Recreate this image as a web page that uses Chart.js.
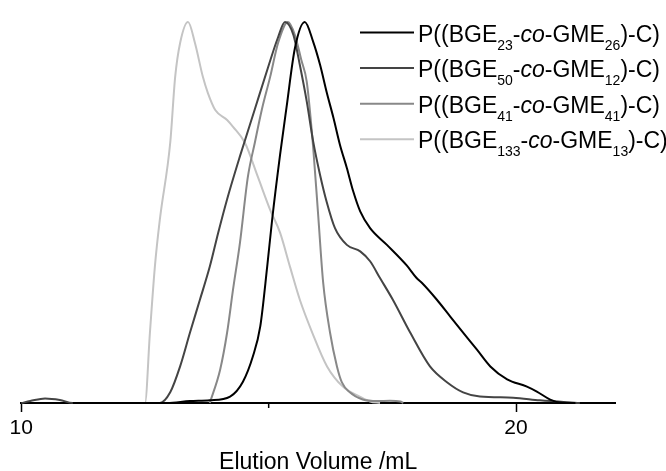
<!DOCTYPE html>
<html>
<head>
<meta charset="utf-8">
<script src="https://cdn.jsdelivr.net/npm/chart.js@4/dist/chart.umd.min.js"></script>
<style>
  html, body { margin: 0; padding: 0; background: #fff; }
</style>
</head>
<body>
<canvas id="secChart" width="666" height="471"></canvas>
<script>
// composition of each copolymer (subscripts in the legend)
var bgeUnits = [23, 50, 41, 133];
var gmeUnits = [26, 12, 41, 13];
var lineColors = ['#000000', '#444444', '#888888', '#c4c4c4'];

// elution volume (mL) and normalised RI signal
var volA = [11.04, 12.95, 13.41, 13.81, 14.22, 14.48, 14.68, 14.83, 14.97, 15.07, 15.23, 15.36, 15.53, 15.73, 15.90, 16.04, 16.17, 16.31, 16.44, 16.58, 16.71, 16.85, 17.05, 17.39, 17.79, 17.99, 18.10, 18.40, 18.67, 18.93, 19.21, 19.48, 19.82, 20.22, 20.42, 20.69, 20.89, 21.20];
var sigA = [0, 0, 0.5, 0.7, 1.7, 5.6, 12.2, 20.1, 35.8, 48.1, 65.1, 77.5, 93.1, 100, 94.8, 88.7, 81.7, 74.8, 67.8, 61.7, 55.5, 50.3, 45.9, 41.5, 36.1, 32.8, 31.5, 27.1, 22.7, 18.5, 14.0, 9.6, 6.2, 4.3, 3.0, 0.9, 0.1, 0];

var volB = [10.0, 10.18, 10.48, 10.78, 11.04, 12.80, 13.01, 13.21, 13.41, 13.61, 13.81, 13.98, 14.16, 14.42, 14.72, 14.99, 15.19, 15.33, 15.50, 15.63, 15.77, 15.90, 16.04, 16.17, 16.34, 16.58, 16.85, 17.05, 17.25, 17.51, 17.86, 18.26, 18.61, 18.93, 19.27, 19.94, 20.48, 21.29];
var sigB = [0, 0.5, 1.2, 0.8, 0, 0, 2.8, 9.6, 18.5, 27.1, 35.8, 44.7, 53.5, 64.8, 77.1, 88.2, 96.0, 100, 96.6, 88.7, 79.1, 68.6, 59.8, 52.9, 45.9, 41.5, 39.8, 37.2, 32.8, 27.1, 18.5, 9.6, 5.4, 2.8, 1.7, 1.4, 0.7, 0];

var volC = [13.81, 14.02, 14.16, 14.28, 14.42, 14.58, 14.72, 14.86, 15.03, 15.19, 15.39, 15.53, 15.66, 15.77, 15.90, 16.00, 16.10, 16.24, 16.38, 16.48, 16.64, 16.90, 17.20, 17.45, 17.66, 17.72];
var sigC = [0, 8.8, 18.5, 29.8, 42.1, 59.4, 68.3, 76.9, 85.6, 94.5, 100, 96.6, 90.0, 84.3, 67.0, 49.4, 31.8, 18.5, 9.6, 5.4, 2.8, 0.9, 0.5, 0.6, 0.4, 0];

var volD = [11.04, 12.50, 12.60, 12.70, 12.80, 13.01, 13.11, 13.21, 13.37, 13.51, 13.67, 13.77, 13.92, 14.16, 14.28, 14.52, 14.78, 15.03, 15.23, 15.43, 15.63, 15.88, 16.18, 16.50, 16.84, 17.05, 17.25];
var sigD = [0, 0, 18.5, 35.8, 48.1, 68.3, 85.6, 94.5, 100, 94.5, 85.6, 81.4, 76.9, 74.3, 72.5, 68.3, 59.4, 50.7, 44.7, 35.8, 27.1, 18.5, 9.6, 4.3, 1.7, 0.4, 0];

var xTicks = [10, 20];
var xMinor = [15];

function pairs(xs, ys) {
    return xs.map(function(v, i) { return {x: v, y: ys[i]}; });
}

var seriesVol = [volA, volB, volC, volD];
var seriesSig = [sigA, sigB, sigC, sigD];

var datasets = bgeUnits.map(function(b, i) {
    return {
        label: 'P((BGE' + b + '-co-GME' + gmeUnits[i] + ')-C)',
        data: pairs(seriesVol[i], seriesSig[i]),
        borderColor: lineColors[i],
        borderWidth: 2,
        pointRadius: 0,
        fill: false,
        cubicInterpolationMode: 'monotone',
        clip: false
    };
});

var FONT = "'Liberation Sans', Arial, sans-serif";

// legend with subscripts and italic "co"
var legendPlugin = {
    id: 'subLegend',
    afterDraw: function(chart) {
        var ctx = chart.ctx;
        ctx.save();
        bgeUnits.forEach(function(b, i) {
            var y = 32.5 + i * 35.6;
            ctx.strokeStyle = lineColors[i];
            ctx.lineWidth = 2;
            ctx.beginPath();
            ctx.moveTo(360, y);
            ctx.lineTo(414, y);
            ctx.stroke();

            var parts = [
                ['P((BGE', 'n'], [String(b), 's'], ['-', 'n'], ['co', 'i'],
                ['-GME', 'n'], [String(gmeUnits[i]), 's'], [')-C)', 'n']
            ];
            var x = 418;
            var base = y + 9;
            ctx.fillStyle = '#000';
            ctx.textBaseline = 'alphabetic';
            ctx.textAlign = 'left';
            parts.forEach(function(p) {
                if (p[1] === 's') {
                    ctx.font = '14px ' + FONT;
                    ctx.fillText(p[0], x, base + 8);
                } else if (p[1] === 'i') {
                    ctx.font = 'italic 23px ' + FONT;
                    ctx.fillText(p[0], x, base);
                } else {
                    ctx.font = '23px ' + FONT;
                    ctx.fillText(p[0], x, base);
                }
                x += ctx.measureText(p[0]).width;
            });
        });
        ctx.restore();
    }
};

// short minor tick at 15 mL
var minorTickPlugin = {
    id: 'minorTicks',
    afterDraw: function(chart) {
        var scale = chart.scales.x;
        var ctx = chart.ctx;
        ctx.save();
        ctx.strokeStyle = '#000';
        ctx.lineWidth = 1.5;
        xMinor.forEach(function(v) {
            var px = scale.getPixelForValue(v);
            ctx.beginPath();
            ctx.moveTo(px, scale.top);
            ctx.lineTo(px, scale.top + 5);
            ctx.stroke();
        });
        ctx.restore();
    }
};

var ctx = document.getElementById('secChart');
var secChart = new Chart(ctx, {
    type: 'line',
    data: { datasets: datasets },
    options: {
        responsive: false,
        animation: false,
        devicePixelRatio: 1,
        layout: { padding: { left: 21.3, right: 51, top: 22, bottom: 0 } },
        plugins: { legend: { display: false }, tooltip: { enabled: false } },
        scales: {
            x: {
                type: 'linear',
                min: 10,
                max: 22,
                afterBuildTicks: function(scale) {
                    scale.ticks = xTicks.map(function(v) { return {value: v}; });
                },
                afterFit: function(scale) { scale.height = 68; },
                border: { display: true, color: '#000', width: 2 },
                grid: { drawOnChartArea: false, drawTicks: true, tickLength: 9, tickColor: '#000', tickWidth: 1.5 },
                ticks: {
                    color: '#000',
                    padding: 4,
                    maxRotation: 0,
                    font: { family: FONT, size: 21 }
                },
                title: {
                    display: true,
                    text: 'Elution Volume /mL',
                    color: '#000',
                    font: { family: FONT, size: 23, lineHeight: 0.75 },
                    padding: { top: 0, bottom: 0 }
                }
            },
            y: {
                display: false,
                min: 0,
                max: 100
            }
        }
    },
    plugins: [legendPlugin, minorTickPlugin]
});
</script>
</body>
</html>
